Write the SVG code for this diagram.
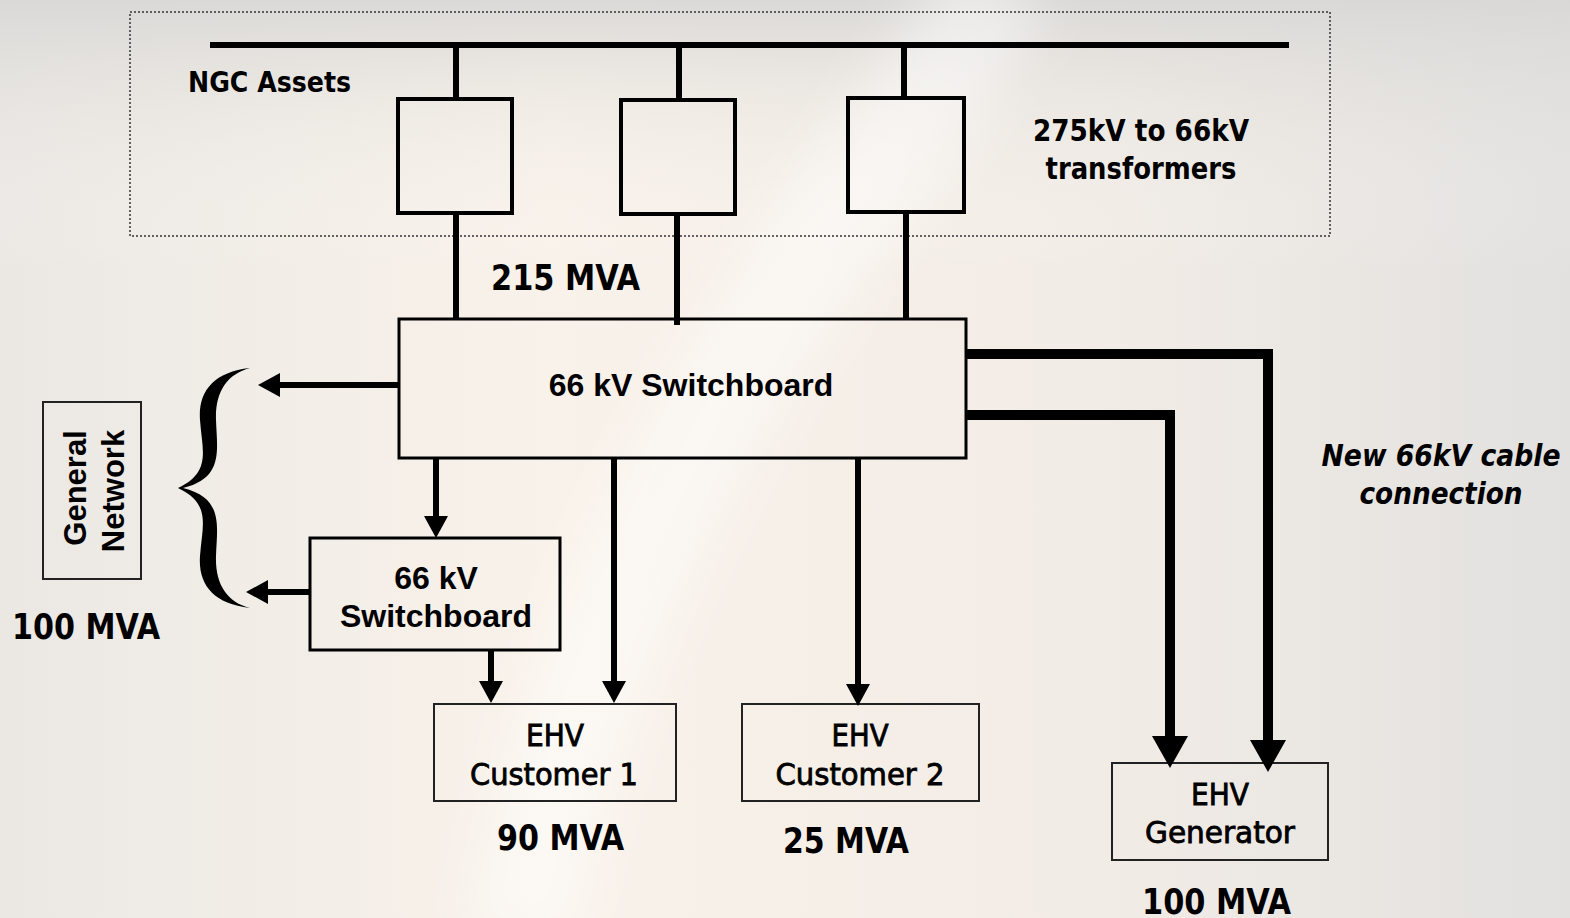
<svg xmlns="http://www.w3.org/2000/svg" width="1570" height="918" viewBox="0 0 1570 918">
<defs>
<linearGradient id="bgH" x1="0" y1="0" x2="1" y2="0">
<stop offset="0" stop-color="#ebe8e4"/>
<stop offset="0.35" stop-color="#f9f2ea"/>
<stop offset="0.7" stop-color="#f2ece6"/>
<stop offset="1" stop-color="#e2e1df"/>
</linearGradient>
<linearGradient id="bgV" x1="0" y1="0" x2="0" y2="1">
<stop offset="0" stop-color="#d8d7d5" stop-opacity="0.9"/>
<stop offset="0.12" stop-color="#e0dfdc" stop-opacity="0.3"/>
<stop offset="0.3" stop-color="#ffffff" stop-opacity="0"/>
</linearGradient>
<filter id="blur" x="-20%" y="-20%" width="140%" height="140%"><feGaussianBlur stdDeviation="25"/></filter>
<marker id="ah" markerUnits="userSpaceOnUse" markerWidth="22" markerHeight="24" viewBox="0 0 22 24" refX="0" refY="12" orient="auto" overflow="visible">
<path d="M0,0 L22,12 L0,24 z" fill="#000"/>
</marker>
<marker id="ahBig" markerUnits="userSpaceOnUse" markerWidth="32" markerHeight="36" viewBox="0 0 32 36" refX="0" refY="18" orient="auto" overflow="visible">
<path d="M0,0 L32,18 L0,36 z" fill="#000"/>
</marker>
</defs>
<style>
.box{fill:none;stroke:#000;}
.tr{stroke-width:4;}
.sw{stroke-width:3;}
.thin{stroke-width:2;stroke:#222;}
.wire{fill:none;stroke:#000;stroke-width:6;}
.cable{fill:none;stroke:#000;stroke-width:10;}
.ta{font-family:"DejaVu Sans Condensed","DejaVu Sans",sans-serif;fill:#000;}
.ar{font-family:"Liberation Sans",Arial,sans-serif;font-weight:bold;fill:#000;}
.b{font-weight:bold;}
.med{stroke:#000;stroke-width:0.8;}
</style>
<rect width="1570" height="918" fill="url(#bgH)"/>
<rect width="1570" height="918" fill="url(#bgV)"/>
<path d="M1000,-20 C880,200 620,420 520,940" fill="none" stroke="#ffffff" stroke-opacity="0.45" stroke-width="110" filter="url(#blur)"/>

<g id="ngc-assets">
<rect x="130" y="12" width="1200" height="224" fill="none" stroke="#333" stroke-width="1.5" stroke-dasharray="2,2"/>
<text class="ta b" x="188" y="92" font-size="29" textLength="163" lengthAdjust="spacingAndGlyphs">NGC Assets</text>
<text class="ta b" x="1141" y="141" font-size="31" text-anchor="middle" textLength="216" lengthAdjust="spacingAndGlyphs">275kV to 66kV</text>
<text class="ta b" x="1141" y="179" font-size="31" text-anchor="middle" textLength="191" lengthAdjust="spacingAndGlyphs">transformers</text>
</g>

<g id="busbar">
<line x1="210" y1="45" x2="1289" y2="45" stroke="#000" stroke-width="6"/>
</g>

<g id="transformer-1"><rect class="box tr" x="398" y="99" width="114" height="114"/></g>
<g id="transformer-2"><rect class="box tr" x="621" y="100" width="114" height="114"/></g>
<g id="transformer-3"><rect class="box tr" x="848" y="98" width="116" height="114"/></g>

<g id="label-215"><text class="ta b" x="491" y="290" font-size="36" textLength="149" lengthAdjust="spacingAndGlyphs">215 MVA</text></g>

<g id="main-switchboard">
<rect class="box sw" x="399" y="319" width="567" height="139"/>
<text class="ar" x="691" y="396" font-size="32" text-anchor="middle">66 kV Switchboard</text>
</g>

<g id="general-network">
<rect class="box thin" x="43" y="402" width="98" height="177"/>
<text class="ar" transform="translate(86,488) rotate(-90)" font-size="31" text-anchor="middle">General</text>
<text class="ar" transform="translate(124,491) rotate(-90)" font-size="31" text-anchor="middle">Network</text>
</g>
<g id="label-100-left"><text class="ta b" x="12" y="639" font-size="36" textLength="148" lengthAdjust="spacingAndGlyphs">100 MVA</text></g>

<g id="brace">
<path d="M250,368 C213,372 198,392 200,420 C202,450 212,472 178,488 C212,504 202,526 200,556 C198,584 213,604 250,608 C227,602 215,584 216,556 C217,526 224,498 183,488 C224,478 217,450 216,420 C215,392 227,374 250,368 Z" fill="#000"/>
</g>

<g id="sub-switchboard">
<rect class="box sw" x="310" y="538" width="250" height="112"/>
<text class="ar" x="436" y="589" font-size="32" text-anchor="middle">66 kV</text>
<text class="ar" x="436" y="627" font-size="32" text-anchor="middle">Switchboard</text>
</g>

<g id="ehv-customer-1">
<rect class="box thin" x="434" y="704" width="242" height="97"/>
<text class="ta med" x="555" y="746" font-size="31" text-anchor="middle" textLength="58" lengthAdjust="spacingAndGlyphs">EHV</text>
<text class="ta med" x="554" y="785" font-size="31" text-anchor="middle" textLength="168" lengthAdjust="spacingAndGlyphs">Customer 1</text>
</g>
<g id="label-90"><text class="ta b" x="497" y="850" font-size="36" textLength="127" lengthAdjust="spacingAndGlyphs">90 MVA</text></g>

<g id="ehv-customer-2">
<rect class="box thin" x="742" y="704" width="237" height="97"/>
<text class="ta med" x="860" y="746" font-size="31" text-anchor="middle" textLength="57" lengthAdjust="spacingAndGlyphs">EHV</text>
<text class="ta med" x="860" y="785" font-size="31" text-anchor="middle" textLength="169" lengthAdjust="spacingAndGlyphs">Customer 2</text>
</g>
<g id="label-25"><text class="ta b" x="783" y="853" font-size="36" textLength="126" lengthAdjust="spacingAndGlyphs">25 MVA</text></g>

<g id="ehv-generator">
<rect class="box thin" x="1112" y="763" width="216" height="97"/>
<text class="ta med" x="1220" y="805" font-size="31" text-anchor="middle" textLength="58" lengthAdjust="spacingAndGlyphs">EHV</text>
<text class="ta med" x="1220" y="843" font-size="31" text-anchor="middle" textLength="150" lengthAdjust="spacingAndGlyphs">Generator</text>
</g>
<g id="label-100-gen"><text class="ta b" x="1142" y="914" font-size="36" textLength="149" lengthAdjust="spacingAndGlyphs">100 MVA</text></g>

<g id="label-new-cable">
<text class="ta b" x="1441" y="466" font-size="30" font-style="italic" text-anchor="middle" textLength="239" lengthAdjust="spacingAndGlyphs">New 66kV cable</text>
<text class="ta b" x="1441" y="504" font-size="30" font-style="italic" text-anchor="middle" textLength="163" lengthAdjust="spacingAndGlyphs">connection</text>
</g>

<g id="connectors">
<line class="wire" x1="456" y1="42" x2="456" y2="99"/>
<line class="wire" x1="679" y1="42" x2="679" y2="100"/>
<line class="wire" x1="904" y1="42" x2="904" y2="98"/>
<line class="wire" x1="456" y1="213" x2="456" y2="319"/>
<line class="wire" x1="677" y1="214" x2="677" y2="325"/>
<line class="wire" x1="906" y1="212" x2="906" y2="319"/>
<line class="wire" x1="399" y1="385" x2="280" y2="385" marker-end="url(#ah)"/>
<line class="wire" x1="310" y1="592" x2="268" y2="592" marker-end="url(#ah)"/>
<line class="wire" x1="436" y1="458" x2="436" y2="516" marker-end="url(#ah)"/>
<line class="wire" x1="491" y1="650" x2="491" y2="681" marker-end="url(#ah)"/>
<line class="wire" x1="614" y1="458" x2="614" y2="681" marker-end="url(#ah)"/>
<line class="wire" x1="858" y1="458" x2="858" y2="684" marker-end="url(#ah)"/>
<path class="cable" d="M966,354 H1268 V740" marker-end="url(#ahBig)"/>
<path class="cable" d="M966,415 H1170 V736" marker-end="url(#ahBig)"/>
</g>
</svg>
